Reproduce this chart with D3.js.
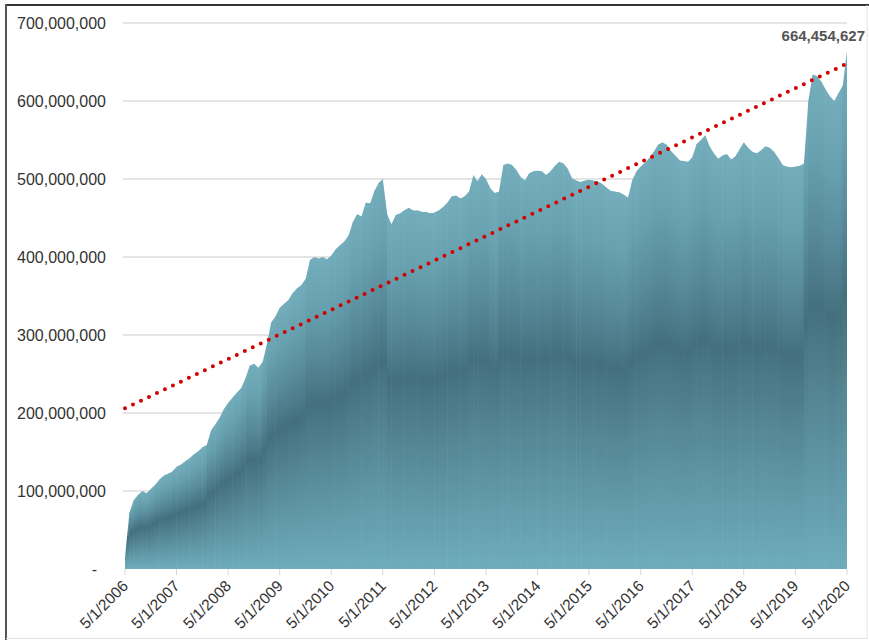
<!DOCTYPE html>
<html>
<head>
<meta charset="utf-8">
<script src="https://cdn.jsdelivr.net/npm/d3@7"></script>
<style>
  html, body { margin: 0; padding: 0; background: #fff; }
  svg { display: block; }
  text { font-family: "Liberation Sans", Arial, sans-serif; }
</style>
</head>
<body>
<svg id="chart" width="869" height="640"></svg>
<script>
// ---- Data (values in millions) ----
const startDate = "2006-05-01";
// monthly values, May 2006 .. May 2020
const values = [
  15, 72, 88, 95, 100, 97, 103, 108, 115, 120, 122, 125,          // 2006-07
  131, 134, 138, 142, 147, 151, 156, 159, 178, 186, 194, 205,      // 2007-08
  213, 220, 226, 232, 245, 261, 263, 258, 266, 290, 316, 324,      // 2008-09
  335, 340, 345, 354, 360, 364, 372, 396, 400, 398, 400, 397,      // 2009-10
  402, 410, 415, 420, 428, 445, 455, 452, 470, 469, 484, 495,      // 2010-11
  500, 455, 442, 454, 456, 460, 463, 460, 460, 458, 458, 456,      // 2011-12
  457, 460, 464, 470, 478, 479, 475, 478, 484, 505, 497, 506,      // 2012-13
  500, 488, 482, 484, 518, 520, 518, 512, 503, 498, 507, 510,      // 2013-14
  511, 510, 505, 510, 517, 522, 520, 513, 501, 498, 496, 498,      // 2014-15
  499, 498, 497, 494, 489, 485, 484, 483, 480, 476, 498, 510,      // 2015-16
  516, 521, 527, 535, 544, 547, 544, 536, 530, 524, 523, 522,      // 2016-17
  528, 545, 550, 556, 542, 533, 526, 530, 532, 525, 529, 538,      // 2017-18
  547, 540, 535, 533, 537, 542, 540, 535, 527, 518, 516, 515,      // 2018-19
  516, 517, 520, 600, 634, 632, 625, 615, 606, 600, 610, 620,      // 2019-20
  664.454627                                                       // May 2020
];
const yTicks = [0, 100, 200, 300, 400, 500, 600, 700];
const tickYears = [2006, 2007, 2008, 2009, 2010, 2011, 2012, 2013, 2014, 2015, 2016, 2017, 2018, 2019, 2020];
const trendStart = 206;   // trend line value at 5/1/2006
const trendEnd = 648;     // trend line value at 5/1/2020
const lastLabel = "664,454,627";

// ---- Build ----
const svg = d3.select("#chart");
const parse = d3.timeParse("%Y-%m-%d");
const d0 = parse(startDate);
const data = values.map((v, i) => ({ date: d3.timeMonth.offset(d0, i), value: v * 1e6 }));
const dEnd = data[data.length - 1].date;

const x = d3.scaleTime().domain([d0, dEnd]).range([125, 847]);
const y = d3.scaleLinear().domain([0, 700e6]).range([569, 23]);

// frame
svg.append("line").attr("x1", 6).attr("x2", 869).attr("y1", 5).attr("y2", 5)
  .attr("stroke", "#333").attr("stroke-width", 2);
svg.append("line").attr("x1", 6).attr("x2", 6).attr("y1", 4).attr("y2", 640)
  .attr("stroke", "#555").attr("stroke-width", 2);
svg.append("line").attr("x1", 867).attr("x2", 867).attr("y1", 5).attr("y2", 639)
  .attr("stroke", "#e4e4e4").attr("stroke-width", 1);
svg.append("line").attr("x1", 6).attr("x2", 867).attr("y1", 638.5).attr("y2", 638.5)
  .attr("stroke", "#e4e4e4").attr("stroke-width", 1);

// gridlines
svg.append("g").selectAll("line").data(yTicks.filter(t => t > 0)).join("line")
  .attr("x1", 123).attr("x2", 847)
  .attr("y1", d => y(d * 1e6)).attr("y2", d => y(d * 1e6))
  .attr("stroke", "#dcdcdc").attr("stroke-width", 1.5);

// y labels
const fmt = d3.format(",");
svg.append("g").selectAll("text").data(yTicks).join("text")
  .attr("x", d => d === 0 ? 97 : 106)
  .attr("y", d => y(d * 1e6))
  .attr("dy", "0.36em")
  .attr("text-anchor", "end")
  .attr("font-size", 16)
  .attr("fill", "#333")
  .text(d => d === 0 ? "-" : fmt(d * 1e6));

// gradient (per-column, relative to each column height)
const defs = svg.append("defs");
const grad = defs.append("linearGradient").attr("id", "colGrad")
  .attr("x1", 0).attr("y1", 0).attr("x2", 0).attr("y2", 1);
[[0, "#74aebc"], [0.15, "#68a2b0"], [0.32, "#57899a"], [0.47, "#44707d"],
 [0.62, "#52828f"], [0.8, "#6097a6"], [1, "#6eacbc"]]
  .forEach(([o, c]) => grad.append("stop").attr("offset", o).attr("stop-color", c));

const area = d3.area().x(d => x(d.date)).y0(y(0)).y1(d => y(d.value));
defs.append("clipPath").attr("id", "areaClip")
  .append("path").attr("d", area(data));

const cols = data.slice(0, -1).map((d, i) => ({
  x0: x(d.date), x1: x(data[i + 1].date),
  top: Math.max(d.value, data[i + 1].value)
}));
svg.append("g").attr("clip-path", "url(#areaClip)")
  .selectAll("rect").data(cols).join("rect")
  .attr("x", d => d.x0 - 0.3)
  .attr("width", d => d.x1 - d.x0 + 0.6)
  .attr("y", d => y(d.top))
  .attr("height", d => y(0) - y(d.top))
  .attr("fill", "url(#colGrad)");

// x ticks and labels
const tickDates = tickYears.map(yr => new Date(yr, 4, 1));
const xfmt = d3.timeFormat("%-m/%-d/%Y");
svg.append("g").selectAll("line").data(tickDates).join("line")
  .attr("x1", d => x(d)).attr("x2", d => x(d))
  .attr("y1", 569).attr("y2", 575)
  .attr("stroke", "#d6d6d6").attr("stroke-width", 1);
svg.append("g").selectAll("text").data(tickDates).join("text")
  .attr("transform", d => `translate(${x(d) + 4},${587}) rotate(-45)`)
  .attr("text-anchor", "end")
  .attr("font-size", 15.5)
  .attr("fill", "#333")
  .text(d => xfmt(d));

// trend line
svg.append("line")
  .attr("x1", x(d0)).attr("y1", y(trendStart * 1e6))
  .attr("x2", x(dEnd)).attr("y2", y(trendEnd * 1e6))
  .attr("stroke", "#d40000").attr("stroke-width", 4)
  .attr("stroke-linecap", "round").attr("stroke-dasharray", "0 8.85");

// last value label
svg.append("text")
  .attr("x", 865).attr("y", 41)
  .attr("text-anchor", "end")
  .attr("font-size", 15).attr("font-weight", "bold")
  .attr("fill", "#555")
  .text(lastLabel);
</script>
</body>
</html>
